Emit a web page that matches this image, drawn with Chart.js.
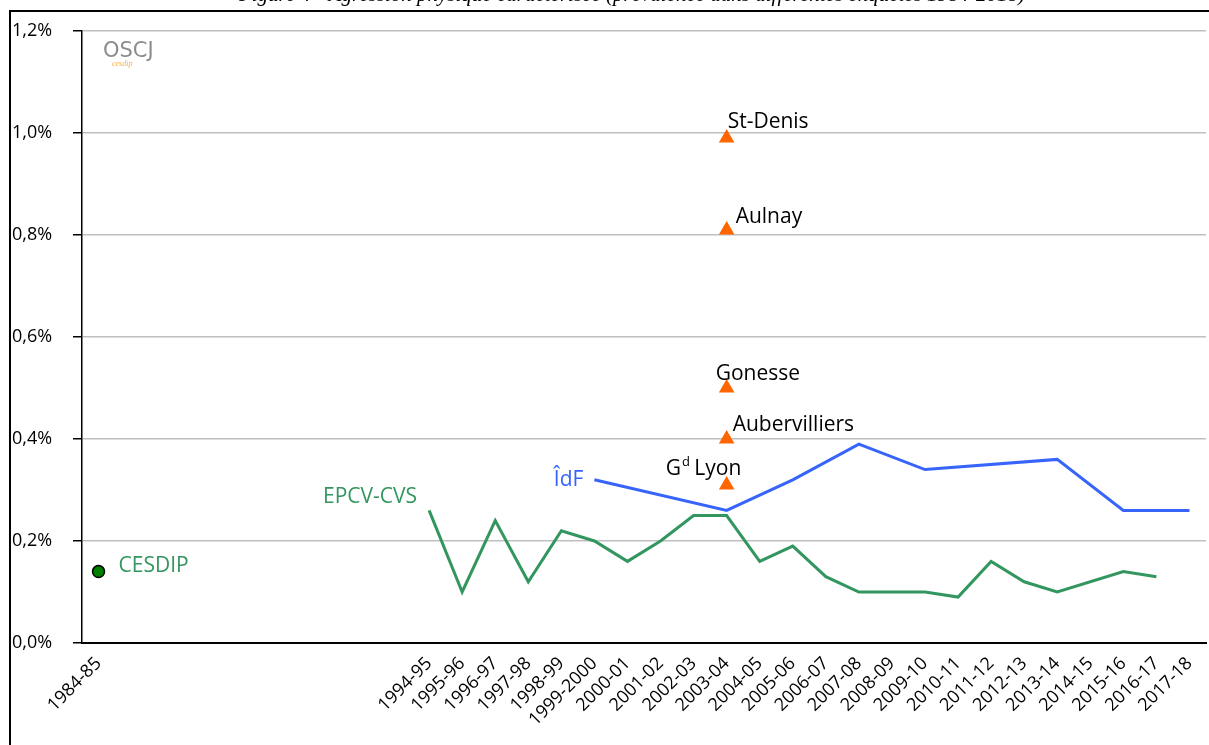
<!DOCTYPE html>
<html>
<head>
<meta charset="utf-8">
<script src="https://cdn.jsdelivr.net/npm/chart.js@4.4.1/dist/chart.umd.min.js"></script>
<style>
  html, body { margin: 0; padding: 0; background: #fff; overflow: hidden; }
  #wrap { position: relative; width: 1209px; height: 745px; }
</style>
</head>
<body>
<div id="wrap"><canvas id="chart" width="1209" height="745"></canvas></div>
<script>
// Category axis: 1984-85, nine empty years, then 1994-95 .. 2017-18
const years = ['1984-85', '', '', '', '', '', '', '', '', '',
  '1994-95', '1995-96', '1996-97', '1997-98', '1998-99', '1999-2000', '2000-01', '2001-02',
  '2002-03', '2003-04', '2004-05', '2005-06', '2006-07', '2007-08', '2008-09', '2009-10',
  '2010-11', '2011-12', '2012-13', '2013-14', '2014-15', '2015-16', '2016-17', '2017-18'];

const gap = [null, null, null, null, null, null, null, null, null, null];

// EPCV-CVS (percent)
const epcv = [...gap,
  0.26, 0.10, 0.24, 0.12, 0.22, 0.20, 0.16, 0.20,
  0.25, 0.25, 0.16, 0.19, 0.13, 0.10, 0.10, 0.10,
  0.09, 0.16, 0.12, 0.10, null, 0.14, 0.13, null];

// ÎdF (percent), straight segments between known years
const idf = [...gap,
  null, null, null, null, null, 0.32, null, null,
  null, 0.26, null, 0.32, null, 0.39, null, 0.34,
  null, null, null, 0.36, null, 0.26, null, 0.26];

// CESDIP 1984-85
const cesdip = [0.14];

// Local surveys, all in 2003-04
const localNames = ['St-Denis', 'Aulnay', 'Gonesse', 'Aubervilliers', 'Gd Lyon'];
const localValues = [0.99, 0.81, 0.50, 0.40, 0.31];

const yTicks = [0, 0.2, 0.4, 0.6, 0.8, 1.0, 1.2];

const FONT = "'Open Sans', 'Noto Sans', sans-serif";
const GREEN = '#33965f';
const BLUE = '#3764fa';
const ORANGE = '#ff6600';

const cesdipData = years.map((y, i) => (i === 0 ? cesdip[0] : null));
const localData = localNames.map((n, i) => ({ x: '2003-04', y: localValues[i], name: n }));

// label offsets (px) relative to the anchoring point
const labels = [
  { text: 'EPCV-CVS', ds: 0, idx: 10, dx: -12, dy: -13, align: 'right', color: GREEN },
  { text: 'ÎdF', ds: 1, idx: 15, dx: -11, dy: 0, align: 'right', color: BLUE },
  { text: 'CESDIP', ds: 2, idx: 0, dx: 20, dy: -6, align: 'left', color: GREEN },
  { text: 'St-Denis', ds: 3, idx: 0, dx: 1, dy: -16, align: 'left', color: '#000' },
  { text: 'Aulnay', ds: 3, idx: 1, dx: 9, dy: -13, align: 'left', color: '#000' },
  { text: 'Gonesse', ds: 3, idx: 2, dx: -11, dy: -14, align: 'left', color: '#000' },
  { text: 'Aubervilliers', ds: 3, idx: 3, dx: 6, dy: -14, align: 'left', color: '#000' },
  { text: 'G', sup: 'd', rest: ' Lyon', ds: 3, idx: 4, dx: -61, dy: -16, align: 'left', color: '#000' },
];

const framePlugin = {
  id: 'frame',
  beforeDraw(chart) {
    const ctx = chart.ctx;
    ctx.save();
    ctx.fillStyle = '#fff';
    ctx.fillRect(0, 0, chart.width, chart.height);
    // cropped figure title
    ctx.font = "italic 21px 'Liberation Serif', serif";
    ctx.fillStyle = '#000';
    ctx.textAlign = 'center';
    ctx.textBaseline = 'alphabetic';
    ctx.fillText('Figure 4 - Agression physique caractérisée (prévalence dans différentes enquêtes 1984-2018)', 632, 1);
    // frame
    ctx.strokeStyle = '#000';
    ctx.lineWidth = 2;
    ctx.beginPath();
    ctx.moveTo(10, chart.height);
    ctx.lineTo(10, 11);
    ctx.lineTo(chart.width, 11);
    ctx.stroke();
    // logo
    ctx.textAlign = 'left';
    ctx.font = "21px 'DejaVu Sans', sans-serif";
    ctx.fillStyle = '#8c8c8c';
    ctx.fillText('OSCJ', 103, 57);
    ctx.font = "italic 8px 'Liberation Serif', serif";
    ctx.fillStyle = '#f5b041';
    ctx.fillText('cesdip', 112, 66);
    ctx.restore();
  }
};

const labelPlugin = {
  id: 'labels',
  afterDatasetsDraw(chart) {
    const ctx = chart.ctx;
    ctx.save();
    ctx.textBaseline = 'middle';
    labels.forEach(l => {
      const el = chart.getDatasetMeta(l.ds).data[l.idx];
      const x = el.x + l.dx, y = el.y + l.dy;
      ctx.fillStyle = l.color;
      ctx.textAlign = l.align;
      ctx.font = '21px ' + FONT;
      if (l.sup) {
        ctx.textAlign = 'left';
        ctx.fillText(l.text, x, y);
        let w = ctx.measureText(l.text).width;
        ctx.font = '13px ' + FONT;
        ctx.fillText(l.sup, x + w + 1, y - 7);
        w += ctx.measureText(l.sup).width;
        ctx.font = '21px ' + FONT;
        ctx.fillText(l.rest, x + w, y);
      } else {
        ctx.fillText(l.text, x, y);
      }
    });
    ctx.restore();
  }
};

new Chart(document.getElementById('chart'), {
  type: 'line',
  data: {
    labels: years,
    datasets: [
      { label: 'EPCV-CVS', data: epcv, borderColor: GREEN, borderWidth: 3, spanGaps: true, pointRadius: 0, tension: 0 },
      { label: 'ÎdF', data: idf, borderColor: BLUE, borderWidth: 3, spanGaps: true, pointRadius: 0, tension: 0 },
      { label: 'CESDIP', data: cesdipData, showLine: false, pointRadius: 6, pointBackgroundColor: '#008000', pointBorderColor: '#000', pointBorderWidth: 1.5 },
      { label: 'Local', data: localData, showLine: false, pointStyle: 'triangle', pointRadius: 9, pointBackgroundColor: ORANGE, pointBorderColor: ORANGE, pointBorderWidth: 0 },
    ],
  },
  options: {
    responsive: false,
    animation: false,
    layout: { autoPadding: false, padding: { top: 31, right: 3, left: 12, bottom: 0 } },
    plugins: { legend: { display: false }, tooltip: { enabled: false } },
    scales: {
      x: {
        type: 'category',
        offset: true,
        grid: { display: false },
        border: { display: true, color: '#000', width: 2 },
        ticks: { autoSkip: false, maxRotation: 45, minRotation: 45, color: '#000', padding: 2, font: { family: FONT, size: 18 } },
        afterFit(scale) { scale.height = 102; scale.paddingLeft = 0; scale.paddingRight = 0; },
      },
      y: {
        min: 0, max: 1.2,
        afterBuildTicks(scale) { scale.ticks = yTicks.map(v => ({ value: v })); },
        grid: { color: '#bfbfbf', lineWidth: 1.5, tickLength: 9, tickColor: '#000' },
        border: { display: true, color: '#000', width: 1.5 },
        ticks: { color: '#000', padding: 10, crossAlign: 'far', font: { family: FONT, size: 18 },
          callback: v => v.toFixed(1).replace('.', ',') + '%' },
        afterFit(scale) { scale.width = 70; scale.paddingTop = 0; scale.paddingBottom = 0; },
      },
    },
  },
  plugins: [framePlugin, labelPlugin],
});
</script>
</body>
</html>
